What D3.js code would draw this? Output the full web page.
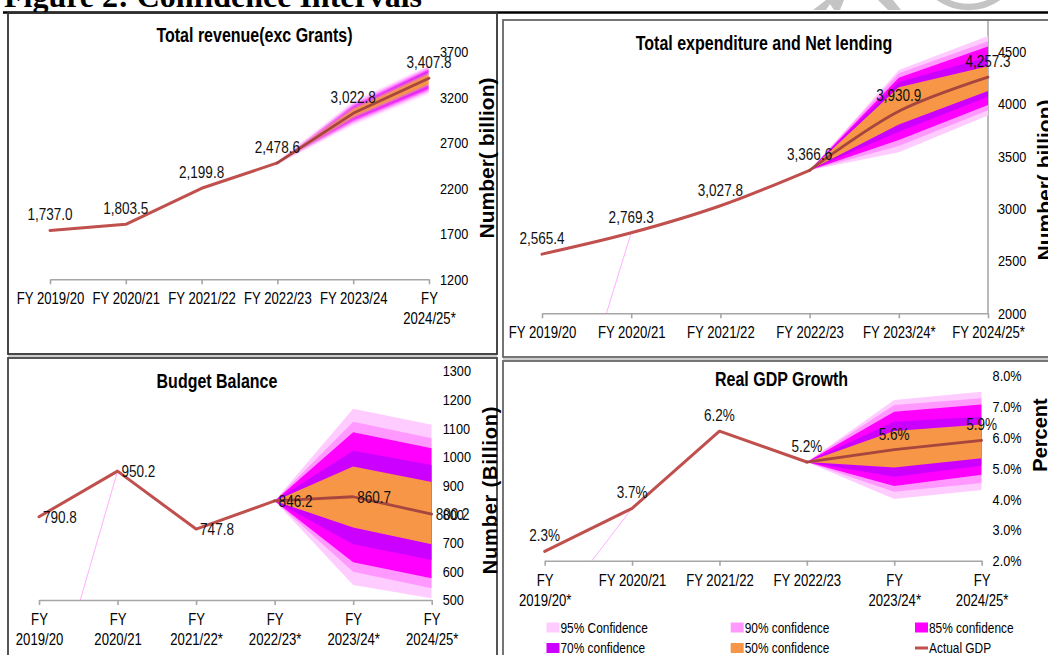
<!DOCTYPE html>
<html><head><meta charset="utf-8">
<script src="https://cdn.jsdelivr.net/npm/d3@7/dist/d3.min.js"></script>
<style>
body{margin:0;background:#fff;}
svg{display:block;}
</style></head><body>
<svg id="c" width="1048" height="655"></svg>
<script>
// ---------------- data ----------------
const heading = "Figure 2: Confidence Intervals";

const revCats = ["FY 2019/20","FY 2020/21","FY 2021/22","FY 2022/23","FY 2023/24","FY\n2024/25*"];
const revValues = [1737.0,1803.5,2199.8,2478.6,3022.8,3407.8];
const revLow  = [[2478.6,2901,3247],[2478.6,2923,3269],[2478.6,2940,3286],[2478.6,2962,3313],[2478.6,2978,3335]];
const revHigh = [[2478.6,3148,3544],[2478.6,3126,3527],[2478.6,3110,3511],[2478.6,3093,3489],[2478.6,3077,3462]];
const revTicks = [1200,1700,2200,2700,3200,3700];

const expCats = ["FY 2019/20","FY 2020/21","FY 2021/22","FY 2022/23","FY 2023/24*","FY 2024/25*"];
const expValues = [2565.4,2769.3,3027.8,3366.6,3930.9,4257.3];
const expLow  = [[3366.6,3540,3890],[3366.6,3598,3940],[3366.6,3655,3990],[3366.6,3735,4070],[3366.6,3805,4125]];
const expHigh = [[3366.6,4325,4650],[3366.6,4295,4600],[3366.6,4250,4550],[3366.6,4210,4450],[3366.6,4160,4360]];
const expTicks = [2000,2500,3000,3500,4000,4500];

const balCats = ["FY\n2019/20","FY\n2020/21","FY\n2021/22*","FY\n2022/23*","FY\n2023/24*","FY\n2024/25*"];
const balValues = [790.8,950.2,747.8,846.2,860.7,800.2];
const balLow  = [[846.2,552,506],[846.2,599,541],[846.2,632,576],[846.2,695,640],[846.2,753,695]];
const balHigh = [[846.2,1168,1112],[846.2,1123,1065],[846.2,1086,1030],[846.2,1021,972],[846.2,966,912]];
const balTicks = [500,600,700,800,900,1000,1100,1200,1300];

const gdpCats = ["FY\n2019/20*","FY 2020/21","FY 2021/22","FY 2022/23","FY\n2023/24*","FY\n2024/25*"];
const gdpValues = [2.3,3.7,6.2,5.2,5.6,5.9];
const gdpLow  = [[5.2,4.00,4.29],[5.2,4.24,4.52],[5.2,4.42,4.79],[5.2,4.72,5.08],[5.2,5.02,5.32]];
const gdpHigh = [[5.2,7.21,7.48],[5.2,7.05,7.27],[5.2,6.83,7.07],[5.2,6.51,6.67],[5.2,6.21,6.42]];
const gdpTicks = [2,3,4,5,6,7,8];

const bandLabels = ["95% Confidence","90% confidence","85% confidence","70% confidence","50% confidence"];
const lineLabel = "Actual GDP";

// ---------------- styles ----------------
const bandColors = ["#FFCCFF","#FF99FF","#FF00FF","#CC00FF","#F79646"];
const lineColor = "#C0504D";
const fcLineColor = "#A6463F";
const SANS = "'Liberation Sans',Arial,sans-serif";
const NARROW_F = 0.82;

function condense(sel, f){
  f = f || NARROW_F;
  sel.each(function(){
    const L = this.getComputedTextLength();
    if(L>0) d3.select(this).attr("textLength",L*f).attr("lengthAdjust","spacingAndGlyphs");
  });
  return sel;
}

const svg = d3.select("#c");
const defs = svg.append("defs");
const blur = defs.append("filter").attr("id","glow").attr("x","-20%").attr("y","-40%").attr("width","140%").attr("height","180%");
blur.append("feGaussianBlur").attr("stdDeviation",1.3);

// watermark remnants at the top
const wm = svg.append("g").attr("fill","#c4c4c4");
wm.append("path").attr("d","M813,10 L826,10 L830,4 L834,10 L840,10 L844,0 L826,0 Z");
wm.append("path").attr("d","M878,0 L893,0 L901,10 L888,10 Z");
wm.append("circle").attr("cx",968.5).attr("cy",-44.6).attr("r",51.5).attr("fill","none")
  .attr("stroke","#c4c4c4").attr("stroke-width",6.5);

// heading and frames
svg.append("text").attr("x",4).attr("y",7).attr("font-family","'Liberation Serif','Times New Roman',serif")
  .attr("font-weight","bold").attr("font-size",32).attr("fill","#000").text(heading);
svg.append("line").attr("x1",3).attr("x2",1048).attr("y1",12.5).attr("y2",12.5).attr("stroke","#000").attr("stroke-width",2.5);

const frames = [
  {x:8,y:13,w:489,h:341,c:"#333"},
  {x:8,y:358,w:489,h:340,c:"#444"},
  {x:503,y:20,w:560,h:337,c:"#666"},
  {x:503,y:361,w:560,h:340,c:"#666"}
];
frames.forEach(f=>{
  svg.append("rect").attr("x",f.x).attr("y",f.y).attr("width",f.w).attr("height",f.h)
    .attr("fill","none").attr("stroke",f.c).attr("stroke-width",1.8);
});
svg.append("line").attr("x1",8).attr("x2",497).attr("y1",356).attr("y2",356).attr("stroke","#999").attr("stroke-width",1);
svg.append("line").attr("x1",503).attr("x2",1048).attr("y1",359).attr("y2",359).attr("stroke","#999").attr("stroke-width",1);

// ---------------- panel drawing ----------------
function drawPanel(cfg){
  const g = svg.append("g");
  const x = d3.scalePoint().domain(cfg.cats).range(cfg.xr);
  const y = d3.scaleLinear().domain(cfg.yd).range(cfg.yr);
  const clipId = "clip-"+cfg.id;
  defs.append("clipPath").attr("id",clipId).append("rect")
    .attr("x",cfg.xr[0]).attr("y",cfg.top).attr("width",cfg.xr[1]-cfg.xr[0]).attr("height",cfg.yr[0]-cfg.top);

  if(cfg.rightLine){
    g.append("line").attr("x1",cfg.xr[1]).attr("x2",cfg.xr[1]).attr("y1",cfg.top).attr("y2",cfg.yr[0])
      .attr("stroke","#8c8c8c").attr("stroke-width",1.2);
  }

  // bands
  const nF = 3;
  const bandCats = cfg.cats.slice(cfg.cats.length-nF);
  const bg = g.append("g").attr("clip-path",`url(#${clipId})`);
  const bandG = bg.append("g");
  if(cfg.glow) bandG.attr("filter","url(#glow)");
  for(let i=0;i<cfg.low.length;i++){
    const pts = bandCats.map((c,j)=>({c, lo:cfg.low[i][j], hi:cfg.high[i][j]}));
    const area = d3.area().x(d=>x(d.c)).y0(d=>y(d.lo)).y1(d=>y(d.hi));
    bandG.append("path").attr("d",area(pts)).attr("fill",bandColors[i]);
  }
  // stray confidence series line starting from zero
  if(cfg.stray){
    const sp = [{c:cfg.cats[0],v:0},{c:cfg.cats[1],v:cfg.values[1]}];
    bg.append("path").attr("d",d3.line().x(d=>x(d.c)).y(d=>y(d.v))(sp))
      .attr("fill","none").attr("stroke","#FFB0FF").attr("stroke-width",1);
  }
  // main line
  const pts = cfg.cats.map((c,i)=>({c,v:cfg.values[i]}));
  const ln = d3.line().x(d=>x(d.c)).y(d=>y(d.v)).curve(cfg.curve||d3.curveLinear);
  g.append("path").attr("d",ln(pts.slice(0,pts.length-nF+1))).attr("fill","none").attr("stroke",lineColor)
    .attr("stroke-width",3).attr("stroke-linejoin","round").attr("stroke-linecap","round");
  g.append("path").attr("d",ln(pts.slice(pts.length-nF))).attr("fill","none").attr("stroke",fcLineColor)
    .attr("stroke-width",2.8).attr("stroke-linejoin","round").attr("stroke-linecap","round");

  // data labels
  const dl = g.selectAll("text.dl").data(pts).join("text").attr("class","dl")
    .attr("x",d=>cfg.labelMode==="right"? x(d.c)+4 : x(d.c))
    .attr("y",d=>cfg.labelMode==="right"? y(d.v)+6 : y(d.v)-10)
    .attr("text-anchor",cfg.labelMode==="right"?"start":"middle")
    .attr("font-family",SANS).attr("font-size",16.5).attr("fill","#111")
    .text(d=>cfg.dataFmt(d.v));
  condense(dl);

  // x axis
  const ax = d3.axisBottom(x).tickSize(5).tickSizeOuter(0);
  const axg = g.append("g").attr("transform",`translate(0,${cfg.yr[0]})`).call(ax);
  axg.select(".domain").attr("stroke","#a6a6a6").attr("stroke-width",1.6);
  axg.selectAll(".tick line").attr("stroke","#a6a6a6").attr("stroke-width",1.6);
  axg.selectAll(".tick").each(function(d){
    const tk = d3.select(this);
    tk.select("text").remove();
    d.split("\n").forEach((s,i)=>{
      const t = tk.append("text").attr("x",0).attr("y",25+i*20).attr("text-anchor","middle")
        .attr("font-family",SANS).attr("font-size",16).attr("fill","#000").text(s);
      condense(t);
    });
  });

  // y axis (right side)
  const ay = d3.axisRight(y).tickValues(cfg.ticks).tickSize(0).tickPadding(cfg.yPad).tickFormat(cfg.tickFmt);
  const ayg = g.append("g").attr("transform",`translate(${cfg.xr[1]},0)`).call(ay);
  ayg.select(".domain").remove();
  condense(ayg.selectAll(".tick text").attr("font-family",SANS).attr("font-size",15.5).attr("fill","#000"));

  // titles
  const tt = g.append("text").attr("x",cfg.title.x).attr("y",cfg.title.y).attr("text-anchor","middle")
    .attr("dominant-baseline","central").attr("font-family",SANS).attr("font-weight","bold")
    .attr("font-size",19.5).attr("fill","#000").text(cfg.title.text);
  condense(tt);
  g.append("text").attr("transform",`translate(${cfg.ytitle.x},${cfg.ytitle.y}) rotate(-90)`)
    .attr("text-anchor","middle").attr("dominant-baseline","central").attr("font-family",SANS)
    .attr("font-weight","bold").attr("font-size",cfg.ytitle.fs||20).attr("letter-spacing",cfg.ytitle.ls||0)
    .attr("fill","#000").text(cfg.ytitle.text);
  return {x,y};
}

const fmt1c = d3.format(",.1f");
const fmtPct = v=>d3.format(".1f")(v)+"%";

drawPanel({id:"rev",cats:revCats,values:revValues,low:revLow,high:revHigh,
  xr:[50,429],yd:[1200,3700],yr:[279.3,51.7],top:20,ticks:revTicks,tickFmt:d=>d,yPad:11,
  dataFmt:fmt1c,labelMode:"above",glow:true,curve:d3.curveLinear,
  title:{text:"Total revenue(exc Grants)",x:254.5,y:35},
  ytitle:{text:"Number( billion)",x:486,y:158,fs:21}});

drawPanel({id:"exp",cats:expCats,values:expValues,low:expLow,high:expHigh,
  xr:[542,988],yd:[2000,4500],yr:[313.3,51.7],top:21,ticks:expTicks,tickFmt:d=>d,yPad:10,
  dataFmt:fmt1c,labelMode:"above",stray:true,rightLine:true,curve:d3.curveCatmullRom.alpha(0.5),
  title:{text:"Total expenditure and Net lending",x:764,y:43},
  ytitle:{text:"Number( billion)",x:1044,y:180,fs:21}});

drawPanel({id:"bal",cats:balCats,values:balValues,low:balLow,high:balHigh,
  xr:[39,431.7],yd:[500,1300],yr:[600,371],top:362,ticks:balTicks,tickFmt:d=>d,yPad:11,
  dataFmt:fmt1c,labelMode:"right",stray:true,curve:d3.curveLinear,
  title:{text:"Budget Balance",x:217,y:381},
  ytitle:{text:"Number (Billion)",x:490,y:490,ls:0.8}});

drawPanel({id:"gdp",cats:gdpCats,values:gdpValues,low:gdpLow,high:gdpHigh,
  xr:[544.7,981.6],yd:[2,8],yr:[560.7,375.7],top:365,ticks:gdpTicks,tickFmt:fmtPct,yPad:11,
  dataFmt:fmtPct,labelMode:"above",stray:true,curve:d3.curveLinear,
  title:{text:"Real GDP Growth",x:781.5,y:379},
  ytitle:{text:"Percent",x:1040,y:435}});

// legend
const legItems = bandLabels.map((l,i)=>({label:l,color:bandColors[i],type:"rect"}))
  .concat([{label:lineLabel,color:lineColor,type:"line"}]);
const legCols = [546.5,730.7,915], legRows = [627.5,648];
const lg = svg.append("g");
legItems.forEach((it,i)=>{
  const cx = legCols[i%3], cy = legRows[Math.floor(i/3)];
  if(it.type==="rect"){
    lg.append("rect").attr("x",cx).attr("y",cy-5).attr("width",13).attr("height",10).attr("fill",it.color);
  } else {
    lg.append("line").attr("x1",cx).attr("x2",cx+13).attr("y1",cy).attr("y2",cy)
      .attr("stroke",it.color).attr("stroke-width",3);
  }
  const t = lg.append("text").attr("x",cx+14).attr("y",cy).attr("dominant-baseline","central")
    .attr("font-family",SANS).attr("font-size",14.5).attr("fill","#000").text(it.label);
  condense(t);
});
</script>
</body></html>
